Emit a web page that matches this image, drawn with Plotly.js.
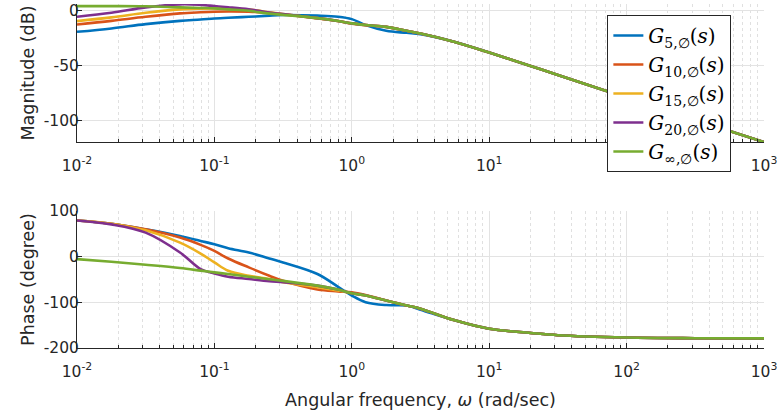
<!DOCTYPE html>
<html>
<head>
<meta charset="utf-8">
<script src="https://cdn.plot.ly/plotly-3.0.1.min.js"></script>
<style>html,body{margin:0;padding:0;background:#fff;}#chart{width:778px;height:414px;}</style>
</head>
<body>
<div id="chart"></div>
<script>
// Angular frequency (rad/sec)
const freq = [0.01, 0.0178, 0.0316, 0.0562, 0.0794, 0.1, 0.126, 0.178, 0.251, 0.316, 0.562, 0.794, 1, 1.26, 1.78, 2.51, 3.16, 5.62, 10, 20, 31.6, 100, 316, 1000];

// Magnitude (dB)
const mag5   = [-19.4, -16.3, -12.4, -9.4, -8.2, -7.2, -6.5, -5.7, -4.6, -4.1, -4.6, -5.6, -7.8, -13.3, -18.5, -20.3, -21.5, -28.6, -38.3, -50.5, -58.9, -79.4, -99.9, -120];
const mag10  = [-12.7, -9.4, -5.7, -2.6, -1.6, -1.1, -0.9, -1.1, -2.1, -3.4, -7.2, -9.6, -11.9, -13.3, -14.9, -18.5, -20.9, -28.6, -38.3, -50.5, -58.9, -79.4, -99.9, -120];
const mag15  = [-9.6, -6.2, -2.0, 1.1, 1.8, 2.0, 1.7, 0.9, -1.5, -3.2, -6.9, -9.5, -11.7, -13.2, -14.9, -18.5, -20.9, -28.6, -38.3, -50.5, -58.9, -79.4, -99.9, -120];
const mag20  = [-5.7, -2.0, 2.9, 5.7, 5.2, 4.1, 3.0, 1.1, -1.8, -3.2, -6.9, -9.5, -11.7, -13.2, -14.9, -18.5, -20.9, -28.6, -38.3, -50.5, -58.9, -79.4, -99.9, -120];
const magInf = [4.1, 4.1, 3.9, 2.9, 2.4, 2.0, 1.1, -0.2, -2.8, -3.9, -6.9, -9.5, -11.7, -13.2, -14.9, -18.5, -20.9, -28.6, -38.3, -50.5, -58.9, -79.4, -99.9, -120];

// Phase (degree)
const ph5   = [79.3, 72.2, 59.8, 45.2, 34.4, 27.2, 18.5, 9.1, -4, -12.7, -38, -66, -85.1, -99.6, -106, -107, -116, -139.5, -158, -167, -172, -177, -178.5, -179];
const ph10  = [79.3, 72.2, 59.8, 41.7, 25.7, 12.6, -4, -23.5, -41.7, -53, -72.1, -76, -78, -84, -96, -106.9, -114, -139.5, -158, -167, -172, -177, -178.5, -179];
const ph15  = [79.3, 72.2, 57.6, 30.8, 6.9, -12.6, -30.8, -41.7, -48.9, -56, -67, -74, -80.1, -85, -96, -106.9, -114, -139.5, -158, -167, -172, -177, -178.5, -179];
const ph20  = [79.3, 70.7, 52.6, 9.1, -27.2, -36.6, -43.8, -48.9, -53.9, -56.2, -63.4, -72, -80.1, -85, -96, -106.9, -114, -139.5, -158, -167, -172, -177, -178.5, -179];
const phInf = [-5.4, -11.2, -17.8, -25, -30.6, -34.4, -38, -43.8, -49.6, -53, -63.4, -72, -80.1, -85, -96, -106.9, -114, -139.5, -158, -167, -172, -177, -178.5, -179];

const names = ['<i>G</i><sub>5,∅</sub>(<i>s</i>)', '<i>G</i><sub>10,∅</sub>(<i>s</i>)', '<i>G</i><sub>15,∅</sub>(<i>s</i>)', '<i>G</i><sub>20,∅</sub>(<i>s</i>)', '<i>G</i><sub>∞,∅</sub>(<i>s</i>)'];
const colors = ['#0072BD', '#D95319', '#EDB120', '#7E2F8E', '#77AC30'];
const mags = [mag5, mag10, mag15, mag20, magInf];
const phs = [ph5, ph10, ph15, ph20, phInf];

const xTickVals = [0.01, 0.1, 1, 10, 100, 1000];
const xTickText = ['10<sup>-2</sup>', '10<sup>-1</sup>', '10<sup>0</sup>', '10<sup>1</sup>', '10<sup>2</sup>', '10<sup>3</sup>'];
const magTickVals = [-100, -50, 0];
const magTickText = ['-100', '-50', '0'];
const phTickVals = [-200, -100, 0, 100];
const phTickText = ['-200', '-100', '0', '100'];

const minorVals = [];
for (let d = -2; d < 3; d++) for (let k = 2; k <= 9; k++) minorVals.push(k * Math.pow(10, d));

const traces = [];
mags.forEach((m, i) => traces.push({x: freq, y: m, xaxis: 'x', yaxis: 'y', type: 'scatter', mode: 'lines', name: names[i],
  line: {color: colors[i], width: 2.6, shape: 'spline', smoothing: 1}, showlegend: true}));
phs.forEach((p, i) => traces.push({x: freq, y: p, xaxis: 'x2', yaxis: 'y2', type: 'scatter', mode: 'lines', name: names[i],
  line: {color: colors[i], width: 2.6, shape: 'spline', smoothing: 1}, showlegend: false}));

const axCol = '#262626';
const fam = 'DejaVu Sans, Arial, sans-serif';
const font = {family: fam, size: 15.5, color: axCol};
function xAx(anchor, title) {
  const a = {type: 'log', range: [-2, 3], anchor: anchor, tickvals: xTickVals, ticktext: xTickText,
    ticks: 'inside', ticklen: 5, tickcolor: axCol, showline: true, linecolor: axCol, linewidth: 1,
    showgrid: true, gridcolor: '#e3e3e3', gridwidth: 1, zeroline: false, mirror: false, tickfont: font,
    ticklabelstandoff: 9,
    minor: {tickvals: minorVals, ticks: 'inside', ticklen: 3, tickcolor: axCol, showgrid: true, gridcolor: '#e0e0e0', griddash: 'dot', gridwidth: 1}};
  if (title) a.title = {text: title, font: {family: fam, size: 17.5, color: axCol}, standoff: 14};
  return a;
}
function yAx(domain, range, tv, tt, title) {
  return {domain: domain, range: range, tickvals: tv, ticktext: tt, ticks: 'inside', ticklen: 5, tickcolor: axCol,
    showline: true, linecolor: axCol, linewidth: 1, showgrid: true, gridcolor: '#e3e3e3', zeroline: false, tickfont: font,
    ticklabelstandoff: -6,
    title: {text: title, font: {family: fam, size: 17.5, color: axCol}, standoff: 4}};
}

const layout = {
  width: 778, height: 414,
  margin: {l: 77, r: 14, t: 4, b: 66},
  paper_bgcolor: '#fff', plot_bgcolor: '#fff',
  xaxis: xAx('y', null),
  yaxis: yAx([0.5988, 1], [-120, 6], magTickVals, magTickText, 'Magnitude (dB)'),
  xaxis2: xAx('y2', 'Angular frequency, <i>ω</i> (rad/sec)'),
  yaxis2: yAx([0, 0.3983], [-200, 100], phTickVals, phTickText, 'Phase (degree)'),
  legend: {x: 0.772, y: 0.968, xanchor: 'left', yanchor: 'top', bgcolor: '#fff', bordercolor: '#262626', borderwidth: 1,
    font: {family: 'DejaVu Serif, Liberation Serif, serif', size: 20, color: '#000'}, itemwidth: 30, tracegroupgap: 0},
  showlegend: true
};

Plotly.newPlot('chart', traces, layout, {displayModeBar: false, staticPlot: true});
</script>
</body>
</html>
